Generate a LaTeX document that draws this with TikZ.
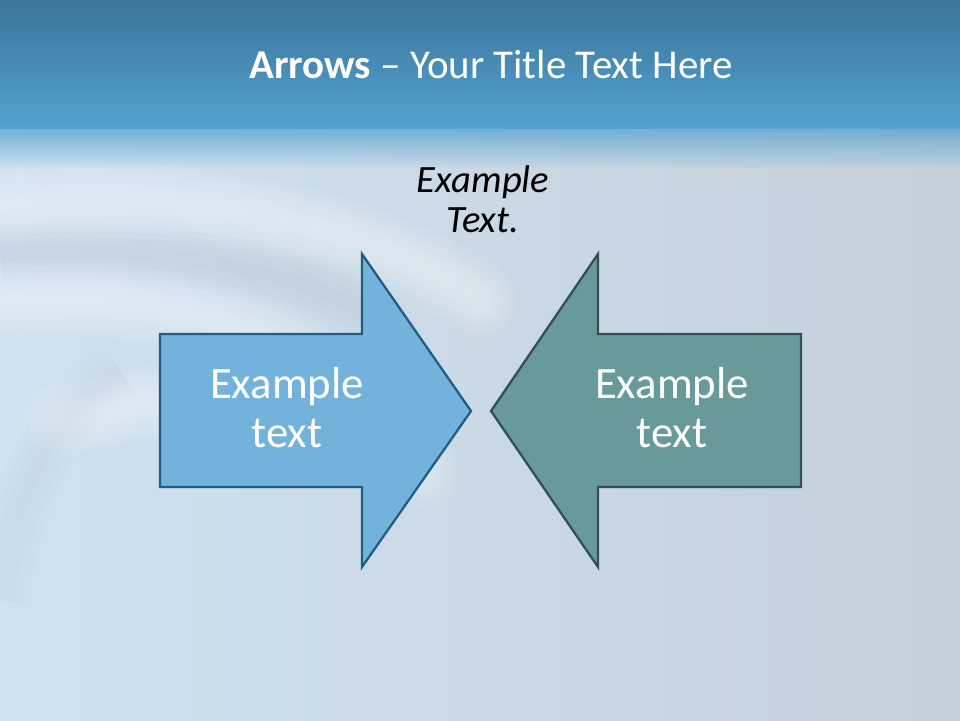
\documentclass[tikz,border=0pt]{standalone}
\usepackage{fontspec}
\setmainfont{Carlito}
\usetikzlibrary{positioning}

\definecolor{bandtop}{RGB}{59,117,154}
\definecolor{bandbot}{RGB}{84,162,209}
\definecolor{paleleft}{RGB}{207,226,240}
\definecolor{paleright}{RGB}{196,208,218}
\definecolor{rightfill}{RGB}{104,154,153}
\definecolor{rightline}{RGB}{50,80,80}
\definecolor{leftfill}{RGB}{115,179,219}
\definecolor{leftline}{RGB}{33,92,132}

\tikzset{
  arrowshape/.style={line width=1.3pt, line join=miter},
  arrowtext/.style={text=white, align=center, font=\fontsize{25.5}{27.8}\selectfont},
  swirl/.style={white, line cap=round, opacity=0.07},
}

\begin{document}
\begin{tikzpicture}[x=0.02cm, y=-0.02cm]
\useasboundingbox (0,0) rectangle (960,720);

% background
\shade[left color=paleleft, right color=paleright] (0,128) rectangle (960,720);
\foreach \w in {6,12,...,42} {
  \draw[swirl, line width=\w] (0,205) .. controls (200,185) and (380,230) .. (480,300);
  \draw[swirl, line width=\w] (0,300) .. controls (150,290) and (300,330) .. (380,410);
  \draw[swirl, line width=\w] (60,420) .. controls (200,380) and (330,400) .. (420,470);
}
\foreach \w in {8,16,24,32} {
  \draw[black!40, opacity=0.03, line width=\w] (0,255) .. controls (150,240) and (300,270) .. (380,320);
  \draw[black!40, opacity=0.02, line width=\w] (120,370) .. controls (40,420) and (10,520) .. (0,600);
}
\foreach \i [evaluate=\i as \op using 0.75-0.037*\i] in {0,...,19}
  \fill[bandbot, opacity=\op] (0,128+2*\i) rectangle (960,130+2*\i);
\shade[top color=bandtop, bottom color=bandbot] (0,0) rectangle (960,128);

% title
\node[text=white, anchor=base, font=\fontsize{23.3}{27}\selectfont] (title) at (491,78)
  {\textbf{Arrows} – Your Title Text Here};

% arrows
\draw[arrowshape, fill=leftfill, draw=leftline] (160,334) -- (362,334) -- (362,254) -- (471,411)
  -- (362,567) -- (362,487) -- (160,487) -- cycle;
\draw[arrowshape, fill=rightfill, draw=rightline] (801,334) -- (598,334) -- (598,254) -- (491,411)
  -- (598,567) -- (598,487) -- (801,487) -- cycle;

\node[arrowtext] (lefttext) at (287,408) {Example\\text};
\node[arrowtext] (righttext) at (672,408) {Example\\text};

% label between the arrows
\node[align=center, font=\fontsize{22}{23}\selectfont\itshape] (note) at (483,199) {Example\\Text.};
\end{tikzpicture}
\end{document}
